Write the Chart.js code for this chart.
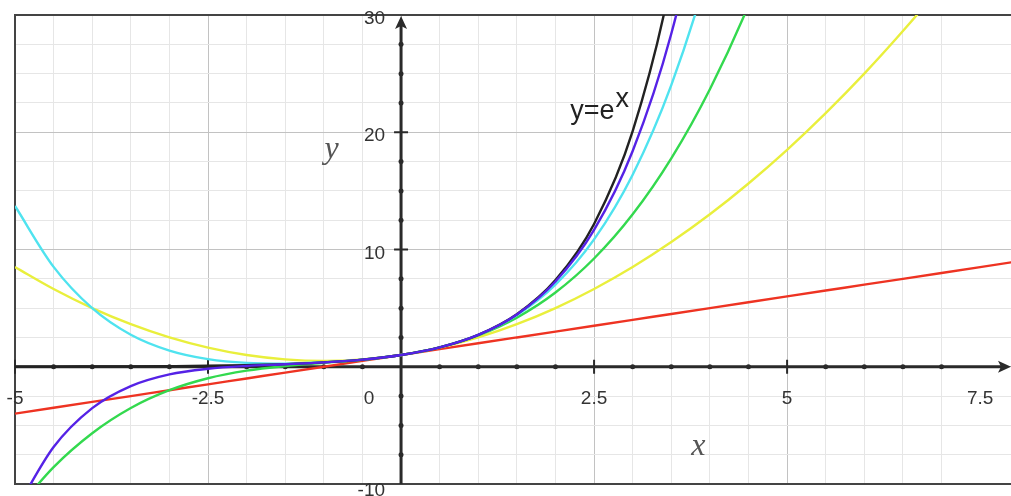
<!DOCTYPE html>
<html>
<head>
<meta charset="utf-8">
<script src="https://cdn.jsdelivr.net/npm/chart.js@4"></script>
<style>
  html, body { margin: 0; padding: 0; background: #fff; }
  canvas { display: block; }
</style>
</head>
<body>
<canvas id="taylor" width="1011" height="496"></canvas>
<script>
// sample points along x
const xValues = [-5, -4.5, -4, -3.5, -3, -2.5, -2, -1.5, -1, -0.5, 0, 0.5, 1, 1.5, 2, 2.5, 3, 3.5, 4, 4.5, 5, 5.5, 6, 6.5, 7, 7.5, 8];

const redValues = [-4, -3.5, -3, -2.5, -2, -1.5, -1, -0.5, 0, 0.5, 1, 1.5, 2, 2.5, 3, 3.5, 4, 4.5, 5, 5.5, 6, 6.5, 7, 7.5, 8, 8.5, 9];
const yellowValues = [8.5, 6.63, 5, 3.63, 2.5, 1.63, 1, 0.63, 0.5, 0.63, 1, 1.63, 2.5, 3.63, 5, 6.63, 8.5, 10.63, 13, 15.63, 18.5, 21.63, 25, 28.63, 32.5, 36.63, 41];
const greenValues = [-12.33, -8.56, -5.67, -3.52, -2, -0.98, -0.33, 0.06, 0.33, 0.6, 1, 1.65, 2.67, 4.19, 6.33, 9.23, 13, 17.77, 23.67, 30.81, 39.33, null, null, null, null, null, null];
const cyanValues = [13.71, 8.52, 5, 2.73, 1.38, 0.65, 0.33, 0.27, 0.38, 0.61, 1, 1.65, 2.71, 4.4, 7, 10.86, 16.38, 24.02, 34.33, 47.9, null, null, null, null, null, null, null];
const purpleValues = [-12.33, -6.85, -3.53, -1.65, -0.65, -0.17, 0.07, 0.21, 0.37, 0.61, 1, 1.65, 2.72, 4.46, 7.27, 11.67, 18.4, 28.4, 42.87, 63.28, null, null, null, null, null, null, null];
const expValues = [0.01, 0.01, 0.02, 0.03, 0.05, 0.08, 0.14, 0.22, 0.37, 0.61, 1, 1.65, 2.72, 4.48, 7.39, 12.18, 20.09, 33.12, 54.6, null, null, null, null, null, null, null, null];

const xTickLabels = [-5, -2.5, 0, 2.5, 5, 7.5];
const yTickLabels = [30, 20, 10, -10];

function points(values) {
    return xValues.map((x, i) => ({ x: x, y: values[i] }));
}

function isMultiple(v, step) {
    const r = v / step;
    return Math.abs(r - Math.round(r)) < 1e-6;
}

const axesPlugin = {
    id: 'axes',
    beforeDatasetsDraw(chart) {
        const { ctx, chartArea: a, scales: { x, y } } = chart;
        const x0 = x.getPixelForValue(0);
        const y0 = y.getPixelForValue(0);
        ctx.save();

        // frame
        ctx.strokeStyle = '#444';
        ctx.lineWidth = 2;
        ctx.beginPath();
        ctx.moveTo(a.right, a.top);
        ctx.lineTo(a.left, a.top);
        ctx.lineTo(a.left, a.bottom);
        ctx.lineTo(a.right, a.bottom);
        ctx.stroke();

        // the two axes
        ctx.strokeStyle = '#2a2a2a';
        ctx.fillStyle = '#2a2a2a';
        ctx.lineWidth = 3;
        ctx.beginPath();
        ctx.moveTo(a.left, y0);
        ctx.lineTo(a.right - 8, y0);
        ctx.moveTo(x0, a.bottom);
        ctx.lineTo(x0, a.top + 8);
        ctx.stroke();

        // arrow heads
        ctx.beginPath();
        ctx.moveTo(a.right, y0);
        ctx.lineTo(a.right - 13, y0 - 6);
        ctx.lineTo(a.right - 10, y0);
        ctx.lineTo(a.right - 13, y0 + 6);
        ctx.closePath();
        ctx.fill();
        ctx.beginPath();
        ctx.moveTo(x0, a.top + 1);
        ctx.lineTo(x0 - 6, a.top + 14);
        ctx.lineTo(x0, a.top + 11);
        ctx.lineTo(x0 + 6, a.top + 14);
        ctx.closePath();
        ctx.fill();

        // tick marks
        ctx.lineWidth = 2;
        x.ticks.forEach(t => {
            if (t.value === 0 || !isMultiple(t.value, 0.5) || t.value > 7.6) return;
            const px = x.getPixelForValue(t.value);
            if (isMultiple(t.value, 2.5)) {
                ctx.beginPath();
                ctx.moveTo(px, y0 - 7);
                ctx.lineTo(px, y0 + 7);
                ctx.stroke();
            } else {
                ctx.beginPath();
                ctx.arc(px, y0, 2.5, 0, Math.PI * 2);
                ctx.fill();
            }
        });
        y.ticks.forEach(t => {
            if (t.value === 0 || t.value >= 30 || t.value <= -10) return;
            const py = y.getPixelForValue(t.value);
            if (isMultiple(t.value, 10)) {
                ctx.beginPath();
                ctx.moveTo(x0 - 7, py);
                ctx.lineTo(x0 + 7, py);
                ctx.stroke();
            } else {
                ctx.beginPath();
                ctx.arc(x0, py, 2.5, 0, Math.PI * 2);
                ctx.fill();
            }
        });
        ctx.restore();
    },
    afterDraw(chart) {
        const { ctx, scales: { x, y } } = chart;
        const x0 = x.getPixelForValue(0);
        const y0 = y.getPixelForValue(0);
        ctx.save();
        ctx.fillStyle = '#333';
        ctx.font = '19px "Liberation Sans", Arial, sans-serif';
        ctx.textBaseline = 'middle';

        ctx.textAlign = 'center';
        xTickLabels.forEach(v => {
            const px = v === 0 ? x0 - 32 : x.getPixelForValue(v);
            ctx.fillText(String(v), px, y0 + 32);
        });
        ctx.textAlign = 'right';
        yTickLabels.forEach(v => {
            ctx.fillText(String(v), x0 - 16, y.getPixelForValue(v) + (v === -10 ? 7 : 4));
        });

        // axis names
        ctx.fillStyle = '#555';
        ctx.textAlign = 'center';
        ctx.font = 'italic 32px "Liberation Serif", "Times New Roman", serif';
        ctx.fillText('y', x.getPixelForValue(-0.9), y.getPixelForValue(18.5));
        ctx.fillText('x', x.getPixelForValue(3.85), y.getPixelForValue(-6.8));

        // curve label
        ctx.fillStyle = '#222';
        ctx.textAlign = 'left';
        ctx.textBaseline = 'alphabetic';
        ctx.font = '27px "Liberation Sans", Arial, sans-serif';
        const lx = x.getPixelForValue(2.19);
        const ly = y.getPixelForValue(21.1);
        ctx.fillText('y=e', lx, ly);
        const w = ctx.measureText('y=e').width;
        ctx.fillText('x', lx + w + 1, ly - 12);
        ctx.restore();
    }
};

function gridColor(step) {
    return c => isMultiple(c.tick.value, step) ? '#c2c2c2' : '#e6e6e6';
}

function line(label, values, color, order) {
    return {
        label: label,
        data: points(values),
        borderColor: color,
        borderWidth: 2.4,
        pointRadius: 0,
        fill: false,
        cubicInterpolationMode: 'monotone',
        order: order,
    };
}

const ctx = document.getElementById('taylor').getContext('2d');
new Chart(ctx, {
    type: 'line',
    data: {
        datasets: [
            line('degree 5', purpleValues, '#5522e6', 0),
            line('e^x', expValues, '#222222', 1),
            line('degree 4', cyanValues, '#4fe3ef', 2),
            line('degree 3', greenValues, '#33d94e', 3),
            line('degree 2', yellowValues, '#e9ef3c', 4),
            line('degree 1', redValues, '#ee3322', 5),
        ]
    },
    plugins: [axesPlugin],
    options: {
        responsive: false,
        animation: false,
        layout: { padding: { left: 15, top: 15, right: 0, bottom: 12 } },
        plugins: {
            legend: { display: false },
            tooltip: { enabled: false },
        },
        scales: {
            x: {
                type: 'linear',
                min: -5,
                max: 7.9,
                ticks: { display: false, stepSize: 0.5 },
                grid: { color: gridColor(2.5), lineWidth: 1, drawTicks: false },
                border: { display: false },
            },
            y: {
                type: 'linear',
                min: -10,
                max: 30,
                ticks: { display: false, stepSize: 2.5 },
                grid: { color: gridColor(10), lineWidth: 1, drawTicks: false },
                border: { display: false },
            }
        }
    }
});
</script>
</body>
</html>
